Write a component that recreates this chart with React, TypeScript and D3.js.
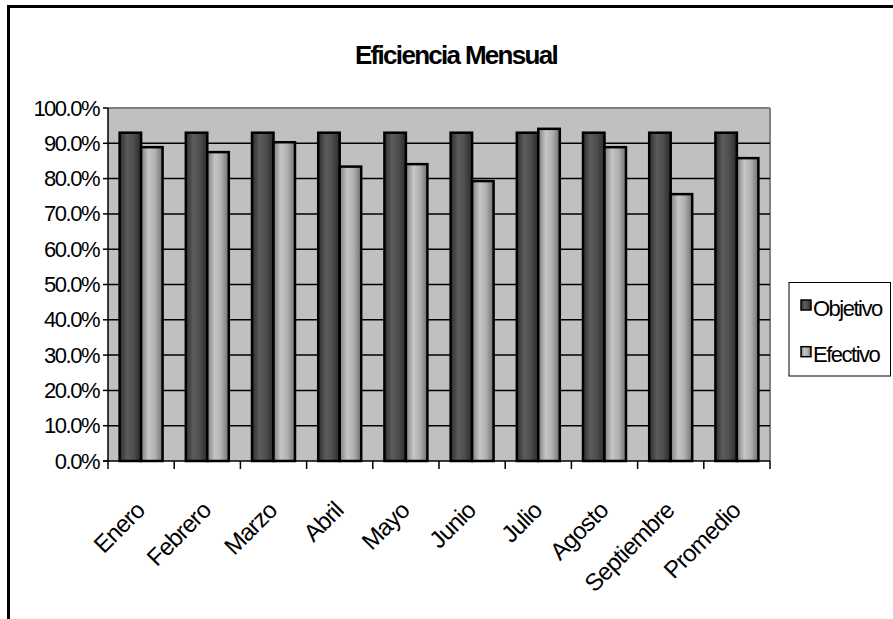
import React from "react";
import * as d3 from "d3";

// Monthly efficiency: target vs. actual
const categories = ["Enero", "Febrero", "Marzo", "Abril", "Mayo", "Junio", "Julio", "Agosto", "Septiembre", "Promedio"];
const series = ["Objetivo", "Efectivo"];
const objetivo = [0.93, 0.93, 0.93, 0.93, 0.93, 0.93, 0.93, 0.93, 0.93, 0.93];
const efectivo = [0.889, 0.875, 0.903, 0.834, 0.841, 0.793, 0.941, 0.889, 0.756, 0.858];
const yTicks = [0, 0.1, 0.2, 0.3, 0.4, 0.5, 0.6, 0.7, 0.8, 0.9, 1.0];

const W = 893;
const H = 619;
const plot = { left: 108, right: 770, top: 108, bottom: 461 };

export default function App() {
  const x = d3.scaleBand<string>().domain(categories).range([plot.left, plot.right]).padding(0);
  const xs = d3.scaleBand<string>().domain(series).range([0, x.step()]).paddingInner(0).paddingOuter(0.54);
  const y = d3.scaleLinear().domain([0, 1]).range([plot.bottom, plot.top]);
  const fmt = d3.format(".1%");
  const values = [objetivo, efectivo];
  const fills = ["url(#gObj)", "url(#gEf)"];
  const font = "'Liberation Sans', Arial, sans-serif";

  return (
    <svg width={W} height={H} style={{ position: "absolute", left: 0, top: 0, background: "#fff" }} fontFamily={font}>
      <defs>
        <linearGradient id="gObj" x1="0" x2="1" y1="0" y2="0">
          <stop offset="0" stopColor="#2e2e2e" />
          <stop offset="0.35" stopColor="#5c5c5c" />
          <stop offset="0.65" stopColor="#4e4e4e" />
          <stop offset="1" stopColor="#2a2a2a" />
        </linearGradient>
        <linearGradient id="gEf" x1="0" x2="1" y1="0" y2="0">
          <stop offset="0" stopColor="#7e7e7e" />
          <stop offset="0.35" stopColor="#c6c6c6" />
          <stop offset="0.65" stopColor="#b0b0b0" />
          <stop offset="1" stopColor="#707070" />
        </linearGradient>
      </defs>

      {/* chart frame */}
      <line x1={8.5} x2={W} y1={6.5} y2={6.5} stroke="#000" strokeWidth={3} />
      <line x1={8.5} x2={8.5} y1={5} y2={H} stroke="#000" strokeWidth={3} />

      <text x={456} y={64} textAnchor="middle" fontSize={26} fontWeight="bold" letterSpacing={-1.7}>
        Eficiencia Mensual
      </text>

      {/* plot area */}
      <rect x={plot.left} y={plot.top} width={plot.right - plot.left} height={plot.bottom - plot.top} fill="#c0c0c0" />
      <line x1={plot.left} x2={plot.right} y1={plot.top} y2={plot.top} stroke="#808080" strokeWidth={2} />
      <line x1={plot.right} x2={plot.right} y1={plot.top} y2={plot.bottom} stroke="#808080" strokeWidth={2} />

      {yTicks.slice(1, -1).map((t) => (
        <line key={t} x1={plot.left} x2={plot.right} y1={y(t)} y2={y(t)} stroke="#000" strokeWidth={1.5} />
      ))}

      {/* bars */}
      {categories.map((c, i) => (
        <g key={c}>
          {series.map((s, j) => {
            const v = values[j][i];
            return (
              <rect
                key={s}
                x={(x(c) as number) + (xs(s) as number)}
                y={y(v)}
                width={xs.bandwidth()}
                height={y(0) - y(v)}
                fill={fills[j]}
                stroke="#000"
                strokeWidth={2.5}
              />
            );
          })}
        </g>
      ))}

      {/* axes */}
      <line x1={plot.left} x2={plot.left} y1={plot.top} y2={plot.bottom} stroke="#000" strokeWidth={1.5} />
      <line x1={plot.left - 5} x2={plot.right} y1={plot.bottom} y2={plot.bottom} stroke="#000" strokeWidth={1.5} />
      {yTicks.map((t) => (
        <g key={t}>
          <line x1={plot.left - 5} x2={plot.left} y1={y(t)} y2={y(t)} stroke="#000" strokeWidth={1.5} />
          <text x={99} y={y(t) + 7.5} textAnchor="end" fontSize={22} letterSpacing={-1.5}>
            {fmt(t)}
          </text>
        </g>
      ))}
      {categories.map((c) => (
        <line key={c} x1={x(c) as number} x2={x(c) as number} y1={plot.bottom} y2={plot.bottom + 8} stroke="#000" strokeWidth={1.5} />
      ))}
      <line x1={plot.right} x2={plot.right} y1={plot.bottom} y2={plot.bottom + 8} stroke="#000" strokeWidth={1.5} />
      {categories.map((c) => {
        const cx = (x(c) as number) + x.bandwidth() / 2 + 5;
        const cy = 512;
        return (
          <text key={c} transform={`translate(${cx},${cy}) rotate(-45)`} textAnchor="end" fontSize={24} letterSpacing={-0.8}>
            {c}
          </text>
        );
      })}

      {/* legend */}
      <rect x={789} y={282.5} width={101.5} height={93.5} fill="#fff" stroke="#000" strokeWidth={1} />
      {series.map((s, j) => (
        <g key={s} transform={`translate(801, ${300 + j * 46.7})`}>
          <rect x={0} y={0} width={10} height={10} fill={fills[j]} stroke="#000" strokeWidth={1.5} />
          <text x={12} y={15.5} fontSize={22} letterSpacing={-1.5}>
            {s}
          </text>
        </g>
      ))}
    </svg>
  );
}
